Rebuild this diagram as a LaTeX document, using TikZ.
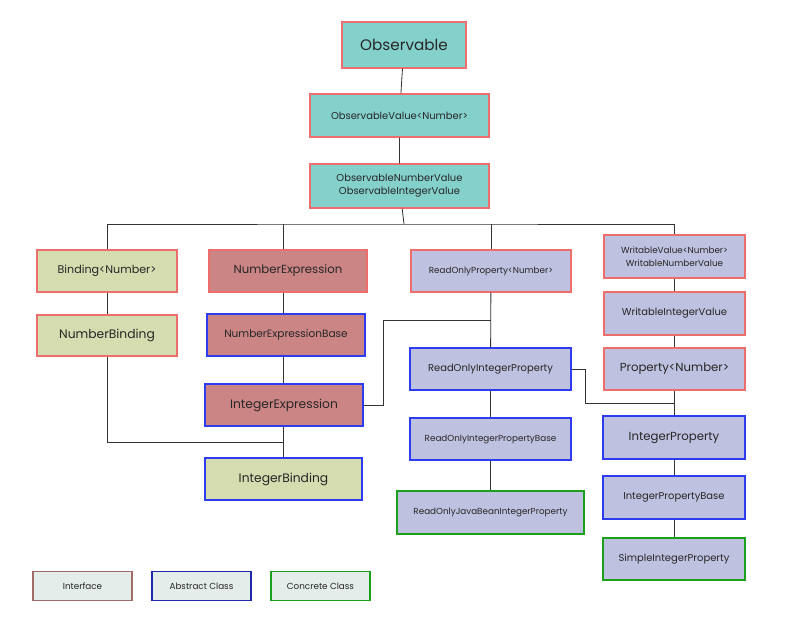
\documentclass[tikz,border=0pt]{standalone}
\usepackage{fontspec}
\setmainfont{Poppins}
\usepackage{tikz}
\usetikzlibrary{positioning}
\definecolor{ifred}{HTML}{EE6E6E}
\definecolor{abblue}{HTML}{2E3CF0}
\definecolor{cogreen}{HTML}{1AA01A}
\definecolor{teal}{HTML}{84D0CB}
\definecolor{olive}{HTML}{D5DDB0}
\definecolor{rose}{HTML}{CC8585}
\definecolor{lav}{HTML}{BFC1E0}
\definecolor{pale}{HTML}{E4EDEA}
\tikzset{
  box/.style={draw, line width=1.2pt, inner sep=1pt, align=center, text=black!85},
  iface/.style={box, draw=ifred},
  abst/.style={box, draw=abblue},
  conc/.style={box, draw=cogreen},
  link/.style={draw=black!80, line width=0.7pt},
}
\newcommand{\bx}[5]{% name, style, x1,y1, x2,y2 via #3 and #4 pairs, text
  \node[#2, minimum width={(#3)*0.03cm}, minimum height={(#4)*0.03cm}] (#1) at (#5) }
\begin{document}
\begin{tikzpicture}[x=0.03cm, y=-0.03cm]
  \useasboundingbox (0,0) rectangle (800,618);
  % top chain
  \bx{obs}{iface, fill=teal, font=\fontsize{13}{15}\selectfont}{124}{46}{404,45} {Observable};
  \bx{obsval}{iface, fill=teal, font=\fontsize{8.5}{10}\selectfont}{179}{43}{399.5,115.5} {ObservableValue<Number>};
  \bx{obsint}{iface, fill=teal, font=\fontsize{8.5}{11}\selectfont}{179}{44}{399.5,186} {ObservableNumberValue\\ObservableIntegerValue};
  % binding column
  \bx{binding}{iface, fill=olive, font=\fontsize{9.5}{11}\selectfont}{140}{42}{107,271} {Binding<Number>};
  \bx{numbind}{iface, fill=olive, font=\fontsize{10.5}{12}\selectfont}{140}{41}{107,335.5} {NumberBinding};
  % expression column
  \bx{numexpr}{iface, fill=rose, font=\fontsize{10}{12}\selectfont}{158}{42}{288,271} {NumberExpression};
  \bx{numexprbase}{abst, fill=rose, font=\fontsize{9}{11}\selectfont}{158}{42}{286,335} {NumberExpressionBase};
  \bx{intexpr}{abst, fill=rose, font=\fontsize{10.5}{12}\selectfont}{158}{42}{284,405} {IntegerExpression};
  \bx{intbind}{abst, fill=olive, font=\fontsize{10.5}{12}\selectfont}{157}{42}{283.5,479} {IntegerBinding};
  % read-only column
  \bx{roprop}{iface, fill=lav, font=\fontsize{7.5}{9}\selectfont}{160}{42}{491,271} {ReadOnlyProperty<Number>};
  \bx{rointprop}{abst, fill=lav, font=\fontsize{8.5}{10}\selectfont}{161}{42}{490.5,369} {ReadOnlyIntegerProperty};
  \bx{rointbase}{abst, fill=lav, font=\fontsize{7.5}{9}\selectfont}{161}{42}{490.5,439} {ReadOnlyIntegerPropertyBase};
  \bx{javabean}{conc, fill=lav, font=\fontsize{7.5}{9}\selectfont}{187}{43}{490.5,512.5} {ReadOnlyJavaBeanIntegerProperty};
  % writable column
  \bx{writable}{iface, fill=lav, font=\fontsize{7.5}{11}\selectfont}{141}{43}{674.5,256.5} {WritableValue<Number>\\WritableNumberValue};
  \bx{writint}{iface, fill=lav, font=\fontsize{8.5}{10}\selectfont}{141}{43}{674.5,313.5} {WritableIntegerValue};
  \bx{prop}{iface, fill=lav, font=\fontsize{10}{12}\selectfont}{141}{42}{674.5,369} {Property<Number>};
  \bx{intprop}{abst, fill=lav, font=\fontsize{10}{12}\selectfont}{142}{43}{674,437.5} {IntegerProperty};
  \bx{intpropbase}{abst, fill=lav, font=\fontsize{8.5}{10}\selectfont}{142}{43}{674,497.5} {IntegerPropertyBase};
  \bx{simpleint}{conc, fill=lav, font=\fontsize{8.5}{10}\selectfont}{142}{42}{674,559} {SimpleIntegerProperty};
  % legend
  \bx{legif}{box, draw=rose!80!black, fill=pale, font=\fontsize{7.5}{9}\selectfont}{99}{29}{82.5,586} {Interface};
  \bx{legab}{box, draw=abblue!70!black, fill=pale, font=\fontsize{7.5}{9}\selectfont}{99}{29}{201.5,586} {Abstract Class};
  \bx{legco}{box, draw=cogreen, fill=pale, font=\fontsize{7.5}{9}\selectfont}{99}{29}{320.5,586} {Concrete Class};
  % connectors
  \coordinate (bus) at (404,224);
  \coordinate (bindjoin) at (283,442);
  \coordinate (exprjoin) at (491,320);
  \coordinate (propjoin) at (674,403);
  \draw[link] (obs) -- (obsval) (obsval) -- (obsint);
  \draw[link] (obsint) -- (bus);
  \draw[link] (binding.north) |- (bus) -| (writable.north);
  \draw[link] (numexpr.north -| bindjoin) -- (bindjoin |- bus);
  \draw[link] (roprop.north) -- (roprop.north |- bus);
  \draw[link] (binding) -- (numbind);
  \draw[link] (numbind.south) |- (bindjoin);
  \draw[link] (numexpr.south -| bindjoin) -- (numexprbase.north -| bindjoin);
  \draw[link] (numexprbase.south -| bindjoin) -- (intexpr.north -| bindjoin);
  \draw[link] (intexpr.south -| bindjoin) -- (intbind.north -| bindjoin);
  \draw[link] (intexpr.east) -- ++(20,0) |- (exprjoin);
  \draw[link] (roprop) -- (rointprop);
  \draw[link] (rointprop) -- (rointbase);
  \draw[link] (rointbase) -- (javabean);
  \draw[link] (rointprop.east) -- ++(14,0) |- (propjoin);
  \draw[link] (writable) -- (writint);
  \draw[link] (writint) -- (prop);
  \draw[link] (prop.south -| intprop) -- (intprop);
  \draw[link] (intprop) -- (intpropbase);
  \draw[link] (intpropbase) -- (simpleint);
\end{tikzpicture}
\end{document}
